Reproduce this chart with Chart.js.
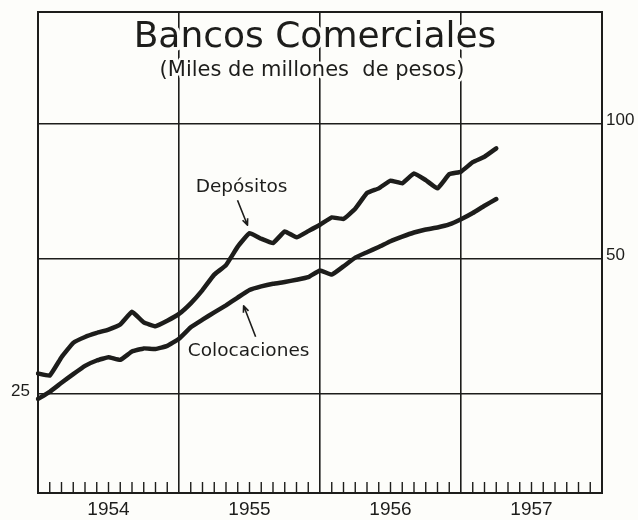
<!DOCTYPE html>
<html>
<head>
<meta charset="utf-8">
<script src="https://cdn.jsdelivr.net/npm/chart.js@4.4.1/dist/chart.umd.min.js"></script>
<style>
  body { margin: 0; background: #fdfdfa; }
  #wrap { width: 638px; height: 520px; }
</style>
</head>
<body>
<div id="wrap"><canvas id="myChart" width="638" height="520"></canvas></div>
<script>
// years shown under the axis, months are the categories (Jan 1954 .. Jan 1958)
const years = ['1954', '1955', '1956', '1957'];
const monthNames = ['Ene', 'Feb', 'Mar', 'Abr', 'May', 'Jun', 'Jul', 'Ago', 'Sep', 'Oct', 'Nov', 'Dic'];

// miles de millones de pesos, monthly
const depositos = [27.8, 27.5, 30.2, 32.5, 33.5, 34.2, 34.8, 35.7, 38.1, 36.1, 35.4, 36.4,
  37.7, 39.8, 42.6, 46.1, 48.4, 53.2, 57.0, 55.4, 54.2, 57.5, 55.8, 57.6,
  59.5, 61.8, 61.3, 64.6, 70.0, 71.7, 74.6, 73.6, 77.4, 74.8, 71.7, 77.1,
  78.1, 82.0, 84.3, 88.0];
const colocaciones = [24.4, 25.3, 26.5, 27.7, 28.9, 29.7, 30.2, 29.8, 31.1, 31.6, 31.5, 32.0,
  33.2, 35.2, 36.6, 38.0, 39.4, 41.0, 42.6, 43.4, 44.0, 44.4, 44.9, 45.5,
  47.1, 46.1, 48.1, 50.3, 51.7, 53.1, 54.7, 56.0, 57.2, 58.1, 58.7, 59.6,
  61.2, 63.2, 65.6, 67.9];

const yTicks = [25, 50, 100];
const yMin = 15.07, yMax = 176.9;

const labels = [];
years.forEach(y => monthNames.forEach(m => labels.push(m + ' ' + y)));
labels.push('Ene 1958');

const ink = '#1d1d1b';
const paper = '#fdfdfa';
const font = '"DejaVu Sans", sans-serif';
const numFont = '"Liberation Sans", sans-serif';

function arrow(ctx, x1, y1, x2, y2) {
  // line from (x1,y1) to tip (x2,y2) with small open head
  const a = Math.atan2(y2 - y1, x2 - x1);
  ctx.beginPath();
  ctx.moveTo(x1, y1);
  ctx.lineTo(x2, y2);
  ctx.moveTo(x2 - 7 * Math.cos(a - 0.4), y2 - 7 * Math.sin(a - 0.4));
  ctx.lineTo(x2, y2);
  ctx.lineTo(x2 - 7 * Math.cos(a + 0.4), y2 - 7 * Math.sin(a + 0.4));
  ctx.stroke();
}

function haloText(ctx, txt, x, y) {
  ctx.strokeText(txt, x, y);
  ctx.fillText(txt, x, y);
}

const paperPlugin = {
  id: 'paper',
  beforeDraw(chart) {
    const ctx = chart.ctx;
    ctx.save();
    ctx.fillStyle = paper;
    ctx.fillRect(0, 0, chart.width, chart.height);
    ctx.restore();
  }
};

const framePlugin = {
  id: 'frame',
  beforeDatasetsDraw(chart) {
    const ctx = chart.ctx;
    const a = chart.chartArea;
    const x = chart.scales.x;
    ctx.save();
    ctx.strokeStyle = ink;
    ctx.lineWidth = 2;
    ctx.strokeRect(a.left, a.top, a.right - a.left, a.bottom - a.top);
    // monthly ticks standing on the bottom axis
    ctx.lineWidth = 1.4;
    ctx.beginPath();
    for (let i = 1; i < labels.length - 1; i++) {
      if (i % 12 === 0) continue;
      const px = x.getPixelForValue(i);
      ctx.moveTo(px, a.bottom);
      ctx.lineTo(px, a.bottom - 11);
    }
    ctx.stroke();
    ctx.restore();
  }
};

const textPlugin = {
  id: 'texts',
  afterDatasetsDraw(chart) {
    const ctx = chart.ctx;
    const a = chart.chartArea;
    const xs = chart.scales.x, ys = chart.scales.y;
    ctx.save();
    ctx.fillStyle = ink;
    ctx.strokeStyle = paper;
    ctx.lineJoin = 'round';
    ctx.textAlign = 'center';
    ctx.textBaseline = 'alphabetic';

    // title, knocking out the grid behind it
    ctx.lineWidth = 7;
    ctx.font = '36px ' + font;
    haloText(ctx, 'Bancos Comerciales', 315, 47);
    ctx.lineWidth = 5;
    ctx.font = '21px ' + font;
    haloText(ctx, '(Miles de millones  de pesos)', 312, 76);

    // years centred in each year band
    ctx.font = '19px ' + numFont;
    ctx.textBaseline = 'middle';
    years.forEach((y, i) => {
      const cx = (xs.getPixelForValue(i * 12) + xs.getPixelForValue(i * 12 + 12)) / 2;
      ctx.fillText(y, cx, 510);
    });

    // value labels: 100 and 50 on the right, 25 on the left
    ctx.font = '17px ' + numFont;
    yTicks.forEach(v => {
      const py = ys.getPixelForValue(v) - 3;
      if (v === 25) {
        ctx.textAlign = 'right';
        ctx.fillText(String(v), a.left - 8, py);
      } else {
        ctx.textAlign = 'left';
        ctx.fillText(String(v), a.right + 4, py);
      }
    });

    // series labels with arrows
    ctx.strokeStyle = ink;
    ctx.lineWidth = 1.6;
    ctx.textAlign = 'center';
    ctx.font = '18.5px ' + font;

    const dx = xs.getPixelForValue(18), dy = ys.getPixelForValue(depositos[18]);
    const tipD = [dx - 2, dy - 8];
    arrow(ctx, tipD[0] - 10, tipD[1] - 25, tipD[0], tipD[1]);
    ctx.fillText('Depósitos', tipD[0] - 6, tipD[1] - 38);

    const cx = (xs.getPixelForValue(17) + xs.getPixelForValue(18)) / 2;
    const cy = (ys.getPixelForValue(colocaciones[17]) + ys.getPixelForValue(colocaciones[18])) / 2;
    const tipC = [cx, cy + 12];
    arrow(ctx, tipC[0] + 12, tipC[1] + 31, tipC[0], tipC[1]);
    ctx.fillText('Colocaciones', tipC[0] + 5, tipC[1] + 45);
    ctx.restore();
  }
};

const lineStyle = {
  borderColor: ink,
  borderWidth: 4.5,
  pointRadius: 0,
  tension: 0.1,
  borderJoinStyle: 'round',
  borderCapStyle: 'round',
  fill: false
};

const ctx = document.getElementById('myChart').getContext('2d');
const chart = new Chart(ctx, {
  type: 'line',
  data: {
    labels: labels,
    datasets: [
      Object.assign({ label: 'Depósitos', data: depositos }, lineStyle),
      Object.assign({ label: 'Colocaciones', data: colocaciones }, lineStyle)
    ]
  },
  options: {
    responsive: false,
    animation: false,
    layout: { padding: { left: 38, right: 36, top: 12, bottom: 27 } },
    plugins: { legend: { display: false }, tooltip: { enabled: false } },
    scales: {
      x: {
        type: 'category',
        offset: false,
        border: { display: false },
        ticks: { display: false, autoSkip: false },
        grid: {
          drawTicks: false,
          lineWidth: 1.6,
          color: c => (c.index % 12 === 0 ? ink : 'rgba(0,0,0,0)')
        }
      },
      y: {
        type: 'logarithmic',
        min: yMin,
        max: yMax,
        border: { display: false },
        afterBuildTicks: scale => { scale.ticks = yTicks.map(v => ({ value: v })); },
        ticks: { display: false },
        grid: { drawTicks: false, lineWidth: 1.6, color: ink }
      }
    }
  },
  plugins: [paperPlugin, framePlugin, textPlugin]
});
</script>
</body>
</html>
